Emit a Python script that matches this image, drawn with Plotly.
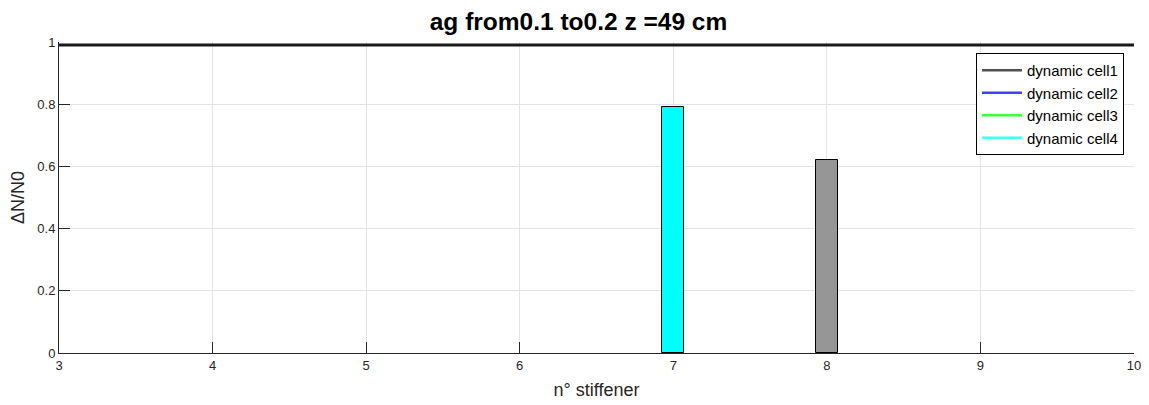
import plotly.graph_objects as go

# data
stiffeners = [7, 8]
bar_values = [0.79, 0.62]
bar_colors = ["#00FFFF", "#969696"]
ref_x = [3, 10]
ref_y = [0.99, 0.99]
legend_names = ["dynamic cell1", "dynamic cell2", "dynamic cell3", "dynamic cell4"]
legend_colors = ["#505050", "#4040FF", "#40FF40", "#40FFFF"]
x_ticks = [3, 4, 5, 6, 7, 8, 9, 10]
y_ticks = [0, 0.2, 0.4, 0.6, 0.8, 1]
y_tick_labels = ["0", "0.2", "0.4", "0.6", "0.8", "1"]

fig = go.Figure()

fig.add_trace(go.Scatter(x=ref_x, y=ref_y, mode="lines",
                         line=dict(color="#1a1a1a", width=3), showlegend=False,
                         hoverinfo="skip"))

fig.add_trace(go.Bar(x=stiffeners, y=bar_values, width=0.145,
                     marker=dict(color=bar_colors, line=dict(color="#000000", width=1)),
                     showlegend=False))

for name, col in zip(legend_names, legend_colors):
    fig.add_trace(go.Scatter(x=[None], y=[None], mode="lines", name=name,
                             line=dict(color=col, width=2.5)))

W, H = 1141, 397
font_family = "Liberation Sans, Arial, sans-serif"
fig.update_layout(
    width=W, height=H,
    margin=dict(l=51, r=15, t=34, b=52, autoexpand=False),
    paper_bgcolor="white", plot_bgcolor="white",
    font=dict(family=font_family, color="#262626", size=13),
    title=dict(text="<b>ag from0.1 to0.2 z =49 cm</b>", x=0.5, xanchor="center",
               y=1 - 5 / H, yanchor="top", font=dict(size=24.5, color="#000000")),
    showlegend=True,
    legend=dict(x=0.9907, xanchor="right", y=0.9646, yanchor="top",
                bordercolor="#000000", borderwidth=1, bgcolor="white",
                font=dict(size=15, color="#000000"),
                tracegroupgap=0, itemwidth=40),
    bargap=0,
)

fig.update_xaxes(range=[3, 10], tickvals=x_ticks, ticks="inside", ticklen=11,
                 tickcolor="#262626", showline=True, linecolor="#262626", linewidth=1,
                 showgrid=True, gridcolor="#e3e3e3", zeroline=False, automargin=False,
                 layer="below traces",
                 title=dict(text="n° stiffener", font=dict(size=18, color="#262626"), standoff=11),
                 tickfont=dict(size=13, color="#262626"))
fig.update_yaxes(range=[0, 1], tickvals=y_ticks, ticktext=y_tick_labels, ticks="inside",
                 ticklen=11, tickcolor="#262626", showline=True, linecolor="#262626",
                 linewidth=1, showgrid=True, gridcolor="#e3e3e3", zeroline=False,
                 automargin=False,
                 title=dict(text="ΔN/N0", font=dict(size=18, color="#262626"), standoff=10),
                 tickfont=dict(size=13, color="#262626"))

fig.write_html("out.html")
